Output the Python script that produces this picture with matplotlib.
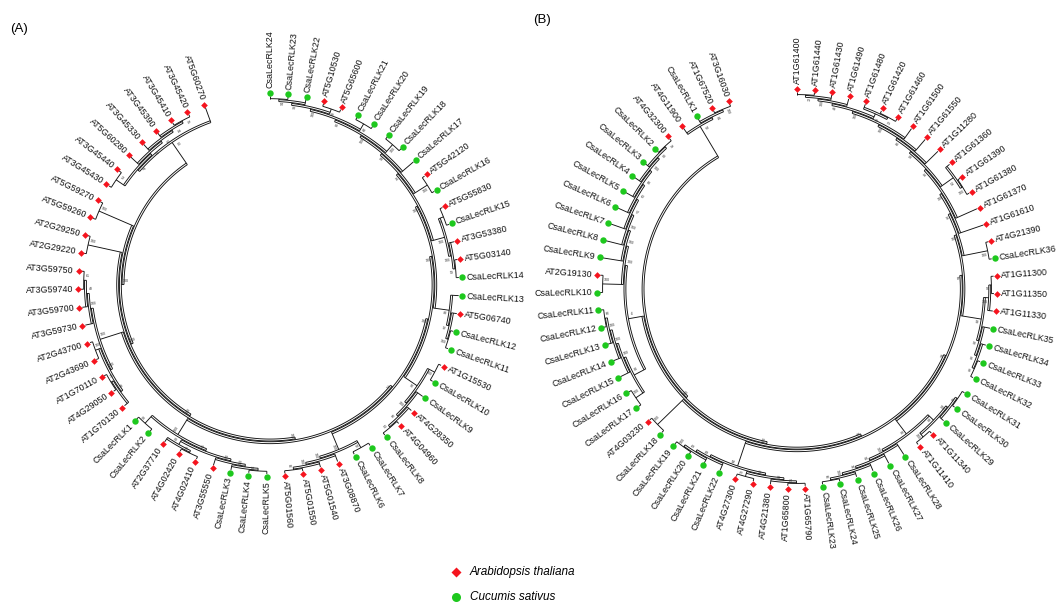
import numpy as np
import matplotlib.pyplot as plt
from matplotlib.collections import LineCollection

plt.rcParams['font.family'] = ['Liberation Sans', 'DejaVu Sans']

# ---- tree (A): clades in leaf order, bootstrap values as internal labels ----
a_top = "(AT5G60270,(((((AT3G45420,AT3G45410)95,AT3G45390)74,AT3G45330)54,AT5G60280)47,(AT3G45440,AT3G45430)72)97)63"
a_g3 = "(AT5G59270,AT5G59260)100"
a_g4 = "(AT2G29250,AT2G29220)100"
a_g5 = "((((AT3G59750,AT3G59740)61,AT3G59700)48,AT3G59730)100,((AT2G43700,AT2G43690)100,((AT1G70110,AT4G29050)73,AT1G70130)99)100)100"
a_g6 = "((CsaLecRLK1,CsaLecRLK2)98,((AT2G37710,(AT4G02420,AT4G02410)99)88,(AT3G55550,(CsaLecRLK3,(CsaLecRLK4,CsaLecRLK5)74)100)100)85)100"
a_g7 = "((((AT5G01560,AT5G01550)86,AT5G01540)100,AT3G08870)100,(CsaLecRLK6,CsaLecRLK7)52)100"
a_g8 = "((((CsaLecRLK8,AT4G04960)63,AT4G28350)66,CsaLecRLK9)100,(CsaLecRLK10,AT1G15530)100)90"
a_g9 = "(((CsaLecRLK11,CsaLecRLK12)100,AT5G06740)92,CsaLecRLK13)68"
a_g10 = "(((CsaLecRLK14,AT5G03140)59,AT3G53380)100,(CsaLecRLK15,AT5G55830)98)100"
a_g11 = "(CsaLecRLK16,AT5G42120)100"
a_g12 = "(CsaLecRLK17,((CsaLecRLK18,CsaLecRLK19)100,((CsaLecRLK20,CsaLecRLK21)64,((AT5G65600,AT5G10530)99,(CsaLecRLK22,(CsaLecRLK23,CsaLecRLK24)94)98)100)80)100)58"
a_backbone = ["76", "100", "100", "100", "72", "100", "100", "100", "100"]

# ---- tree (B) ----
b_g1 = "(((AT3G16030,AT1G67520)100,CsaLecRLK1)84,AT4G11900)52"
b_g2 = "(((((((((AT4G32300,CsaLecRLK2)79,CsaLecRLK3)88,CsaLecRLK4)100,CsaLecRLK5)68,CsaLecRLK6)62,CsaLecRLK7)57,CsaLecRLK8)100,CsaLecRLK9)100,(AT2G19130,CsaLecRLK10)100)100"
b_g3 = "(((((CsaLecRLK11,CsaLecRLK12)60,CsaLecRLK13)100,CsaLecRLK14)100,CsaLecRLK15)100,(CsaLecRLK16,CsaLecRLK17)100)80"
b_g4 = "(AT4G03230,CsaLecRLK18)100"
b_g5 = "((((CsaLecRLK19,CsaLecRLK20)100,CsaLecRLK21)50,CsaLecRLK22)58,((AT4G27300,AT4G27290)73,(AT4G21380,(AT1G65800,AT1G65790)95)68)42)64"
b_g6 = "((((((CsaLecRLK23,CsaLecRLK24)66,CsaLecRLK25)100,CsaLecRLK26)74,CsaLecRLK27)94,CsaLecRLK28)100,((AT1G11410,AT1G11340)100,(CsaLecRLK29,(CsaLecRLK30,CsaLecRLK31)46)100)58)90"
b_g7 = "((((CsaLecRLK32,CsaLecRLK33)96,CsaLecRLK34)96,CsaLecRLK35)98,(AT1G11330,(AT1G11350,AT1G11300)94)100)58"
b_g8 = "(CsaLecRLK36,AT4G21390)100"
b_g9 = ("(AT1G61610,(AT1G61370,(((AT1G61380,AT1G61390)100,AT1G61360)54,(AT1G11280,(AT1G61550,(AT1G61500,"
        "(((AT1G61460,AT1G61420)72,AT1G61480)93,(AT1G61490,(AT1G61430,(AT1G61440,AT1G61400)72)100)48)100)100)60)98)96)100)96")

tree_a = ("(" + a_top + ",(" + a_g3 + ",(" + a_g4 + ",(" + a_g5 + ",(" + a_g6 + ",(" + a_g7 + ",(" + a_g8
          + ",(" + a_g9 + ",(" + a_g10 + ",(" + a_g11 + "," + a_g12
          + "".join(")" + v for v in a_backbone) + ")")
tree_b = ("(" + b_g1 + ",((" + b_g2 + "," + b_g3 + ")4,(" + b_g4 + ",(" + b_g5 + ",(" + b_g6 + ",(" + b_g7
          + ",(" + b_g8 + "," + b_g9 + ")100)87)97)96)100)100)")

legend_labels = ["Arabidopsis thaliana", "Cucumis sativus"]
red = '#f5141e'
green = '#1ec81e'


def parse_newick(s):
    pos = 0

    def node():
        nonlocal pos
        if s[pos] == '(':
            pos += 1
            kids = [node()]
            while s[pos] == ',':
                pos += 1
                kids.append(node())
            pos += 1
            start = pos
            while pos < len(s) and s[pos] not in ',()':
                pos += 1
            return {'children': kids, 'support': s[start:pos]}
        start = pos
        while pos < len(s) and s[pos] not in ',()':
            pos += 1
        return {'name': s[start:pos]}
    return node()


def layout(root, a0, a1):
    leaves = []

    def collect(n):
        if 'name' in n:
            leaves.append(n)
        else:
            for c in n['children']:
                collect(c)
    collect(root)
    for lf, a in zip(leaves, np.linspace(a0, a1, len(leaves))):
        lf['ang'], lf['h'] = a, 0

    def post(n):
        if 'name' in n:
            return
        for c in n['children']:
            post(c)
        n['h'] = 1 + max(c['h'] for c in n['children'])
        n['ang'] = 0.5 * (n['children'][0]['ang'] + n['children'][-1]['ang'])
    post(root)
    return leaves


def draw_tree(ax, newick, cx, cy, r_tip, r_root, a0, a1):
    root = parse_newick(newick)
    leaves = layout(root, a0, a1)
    step = (r_tip - r_root) / root['h']

    def rad(n):
        return r_tip - step * n['h']

    def pt(r, a):
        t = np.radians(a)
        return cx + r * np.cos(t), cy - r * np.sin(t)

    segs = []

    def walk(n, is_root=False):
        if 'children' not in n:
            return
        r = rad(n)
        lo, hi = n['children'][0]['ang'], n['children'][-1]['ang']
        ts = np.linspace(lo, hi, int(abs(hi - lo) * 2) + 2)
        segs.append([pt(r, t) for t in ts])
        # deeper nodes are drawn with a doubled arc
        if n['h'] >= 2:
            segs.append([pt(r + 1.9, t) for t in ts])
        for c in n['children']:
            segs.append([pt(r, c['ang']), pt(rad(c), c['ang'])])
            walk(c)
        if not is_root and n['support']:
            a = n['ang'] % 360
            x, y = pt(r - 4, n['ang'] - 1.3)
            rot = a - 180 if 90 < a < 270 else a
            ax.text(x, y, n['support'], fontsize=2.6, color='#333333', rotation=rot,
                    ha='center', va='center', rotation_mode='anchor')
    walk(root, True)
    ax.add_collection(LineCollection(segs, colors='#111111', linewidths=0.65))

    for lf in leaves:
        is_at = lf['name'].startswith('AT')
        x, y = pt(r_tip + 3, lf['ang'])
        if is_at:
            ax.plot(x, y, marker='D', ms=3.4, color=red, mec='none')
        else:
            ax.plot(x, y, marker='o', ms=4.6, color=green, mec='none')
        a = lf['ang'] % 360
        tx, ty = pt(r_tip + 7.5, lf['ang'])
        if 90 < a < 270:
            rot, ha = a - 180, 'right'
        else:
            rot, ha = (a if a <= 90 else a - 360), 'left'
        ax.text(tx, ty, lf['name'], rotation=rot, ha=ha, va='center',
                rotation_mode='anchor', fontsize=6.4, color='#111111')


fig = plt.figure(figsize=(10.59, 6.05), dpi=100)
ax = fig.add_axes([0, 0, 1, 1])
ax.set_xlim(0, 1059)
ax.set_ylim(605, 0)
ax.axis('off')

draw_tree(ax, tree_a, 270, 285, 189, 146, 110, 450)
draw_tree(ax, tree_b, 797, 289, 197, 153, 110, 450)

ax.text(10, 29, "(A)", fontsize=9.5, va='center')
ax.text(533, 20, "(B)", fontsize=9.5, va='center')

ax.plot(456, 572, marker='D', ms=4.8, color=red, mec='none')
ax.text(470, 572, legend_labels[0], style='italic', fontsize=8.5, va='center')
ax.plot(456, 597, marker='o', ms=6.5, color=green, mec='none')
ax.text(470, 597, legend_labels[1], style='italic', fontsize=8.5, va='center')

fig.savefig('out.png', dpi=100)
